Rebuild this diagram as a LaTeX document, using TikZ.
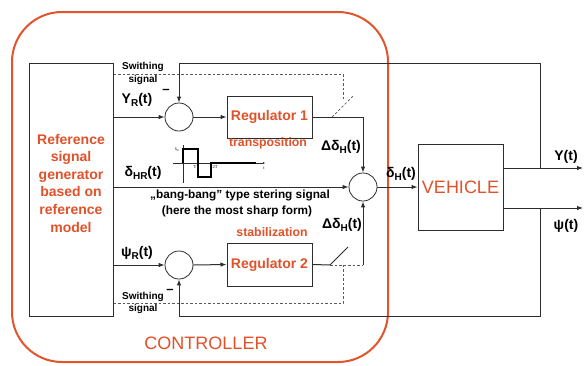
\documentclass[tikz,border=0pt]{standalone}
\usepackage{fontspec}
\setmainfont{Liberation Sans}
\newfontfamily\plotfont{Liberation Serif}
\usetikzlibrary{arrows.meta,calc}
\definecolor{ctrlorange}{RGB}{226,84,44}
\definecolor{txtorange}{RGB}{224,82,42}
\definecolor{lineblack}{RGB}{45,45,45}
\newcommand\mysub[1]{\raisebox{-0.4ex}{\fontsize{10}{10}\selectfont #1}}
\begin{document}
\begin{tikzpicture}[x=1pt,y=-1pt,
  blk/.style={draw=lineblack,line width=1pt,inner sep=0pt},
  sumc/.style={circle,draw=lineblack,line width=0.8pt,minimum size=28pt,inner sep=0pt},
  wire/.style={draw=lineblack,line width=1pt},
  arr/.style={wire,-{Latex[length=6pt,width=4.5pt]}},
  dsh/.style={draw=gray!70!black,line width=0.7pt,dash pattern=on 2.5pt off 2pt},
  lbl/.style={font=\bfseries\fontsize{14}{16}\selectfont,inner sep=0pt},
  small/.style={font=\bfseries\fontsize{10}{11}\selectfont,inner sep=0pt},
  otxt/.style={text=txtorange,font=\bfseries\fontsize{12.3}{14}\selectfont,inner sep=0pt},
  ]
\useasboundingbox (0,0) rectangle (584,365);
\fill[white] (0,0) rectangle (584,365);

% controller frame
\draw[ctrlorange,line width=2pt,rounded corners=50pt] (12,12) rectangle (388,362);
\node[text=txtorange,font=\fontsize{18}{20}\selectfont,inner sep=0pt] (ctrl) at (206,343) {CONTROLLER};

% blocks
\node[blk,minimum width=84pt,minimum height=253pt] (gen) at (71,189.5) {};
\node[text=txtorange,font=\bfseries\fontsize{14}{17.6}\selectfont,align=center,inner sep=0pt] (gentext) at (71,183)
  {Reference\\signal\\generator\\based on\\reference\\model};
\node[blk,minimum width=85pt,minimum height=42pt,text=txtorange,font=\bfseries\fontsize{14}{16}\selectfont] (reg1) at (269.5,117) {Regulator 1};
\node[blk,minimum width=85pt,minimum height=43pt,text=txtorange,font=\bfseries\fontsize{14}{16}\selectfont] (reg2) at (269.5,264.5) {Regulator 2};
\node[blk,minimum width=85pt,minimum height=86pt,text=txtorange,font=\fontsize{18}{20}\selectfont] (veh) at (460.5,187) {VEHICLE};

\node[sumc] (s1) at (179,117) {};
\node[sumc] (s3) at (179,265) {};
\node[sumc] (s2) at (363,187) {};

% coordinates
\coordinate (c1) at (363,117);
\coordinate (c2) at (363,265);
\coordinate (sw2a) at (330,265);
\coordinate (sw2b) at (348,247);
\coordinate (yo) at (503,168);
\coordinate (ybr) at (540,168);
\coordinate (yend) at (583,168);
\coordinate (po) at (503,208);
\coordinate (pbr) at (540,208);
\coordinate (pend) at (583,208);
\coordinate (dtop) at (343,74);
\coordinate (dbot) at (343,303);

% signal wires
\draw[arr] (gen.east |- s1) -- (s1.west);
\draw[arr] (gen.east |- s2) -- (s2.west);
\draw[arr] (gen.east |- s3) -- (s3.west);
\draw[arr] (s1.east) -- (reg1.west);
\draw[arr] (s3.east) -- (reg2.west);
\draw[wire] (reg1.east) -- (c1);
\draw[arr] (c1) -- (s2.north);
\draw[wire] (reg2.east) -- (sw2a) -- (sw2b);
\draw[dsh] (sw2a) -- (c2);
\draw[arr] (c2) -- (s2.south);
\draw[arr] (s2.east) -- (veh.west);
\draw[arr] (yo) -- (yend);
\draw[arr] (po) -- (pend);
\draw[arr] (ybr) -- (ybr |- 0,63) -| (s1.north);
\draw[arr] (pbr) -- (pbr |- 0,316) -| (s3.south);

% switches and switching signals
\draw[dsh] (332,117) -- (353,96);
\draw[dsh] (gen.east |- dtop) -- (dtop) -- (343,100);
\draw[dsh] (gen.east |- dbot) -- (dbot) -- (343,265);

% labels
\node[small] (sw1a) at (143,67) {Swithing};
\node[small] (sw1b) at (143,80) {signal};
\node[small] (sw3a) at (143,297) {Swithing};
\node[small] (sw3b) at (143,309) {signal};
\node[font=\bfseries\fontsize{13}{13}\selectfont,inner sep=0pt] (m1) at (166,91) {–};
\node[font=\bfseries\fontsize{13}{13}\selectfont,inner sep=0pt] (m3) at (170,291) {–};
\node[lbl] (lyr) at (137,100) {Y\mysub{R}(t)};
\node[lbl] (lpr) at (137,253) {ψ\mysub{R}(t)};
\node[lbl] (ldhr) at (143,173) {δ\mysub{HR}(t)};
\node[lbl] (ld1) at (341,147) {Δδ\mysub{H}(t)};
\node[lbl] (ld2) at (342,225) {Δδ\mysub{H}(t)};
\node[lbl] (ldh) at (401,174) {δ\mysub{H}(t)};
\node[lbl] (ly) at (566,157) {Y(t)};
\node[lbl] (lp) at (566,226) {ψ(t)};
\node[otxt] (tr) at (268,143) {transposition};
\node[otxt] (st) at (272,232) {stabilization};
\node[font=\bfseries\fontsize{11.8}{14}\selectfont,inner sep=0pt] (bb1) at (240,195) {„bang-bang” type stering signal};
\node[font=\bfseries\fontsize{11.8}{14}\selectfont,inner sep=0pt] (bb2) at (237,211) {(here the most sharp form)};

% mini plot
\draw[lineblack,line width=0.5pt] (183,183) -- (183,145);
\draw[lineblack,line width=0.5pt,-{Latex[length=2pt,width=2pt]}] (173,163) -- (265,163);
\draw[black,line width=1.4pt] (183,163) -- (183,149) -- (198,149) -- (198,177) -- (211,177) -- (211,163) -- (256,163);
\node[font=\plotfont\fontsize{4}{4}\selectfont,inner sep=0pt] (pd) at (177,150) {δ\textsubscript{H}};
\node[font=\plotfont\fontsize{4.5}{4.5}\selectfont,inner sep=0pt] (pT) at (195,167) {T};
\node[font=\plotfont\fontsize{4.5}{4.5}\selectfont,inner sep=0pt] (p2T) at (215,167) {2T};
\node[font=\plotfont\fontsize{4.5}{4.5}\selectfont,inner sep=0pt] (pt) at (264,168) {t};
\end{tikzpicture}
\end{document}
